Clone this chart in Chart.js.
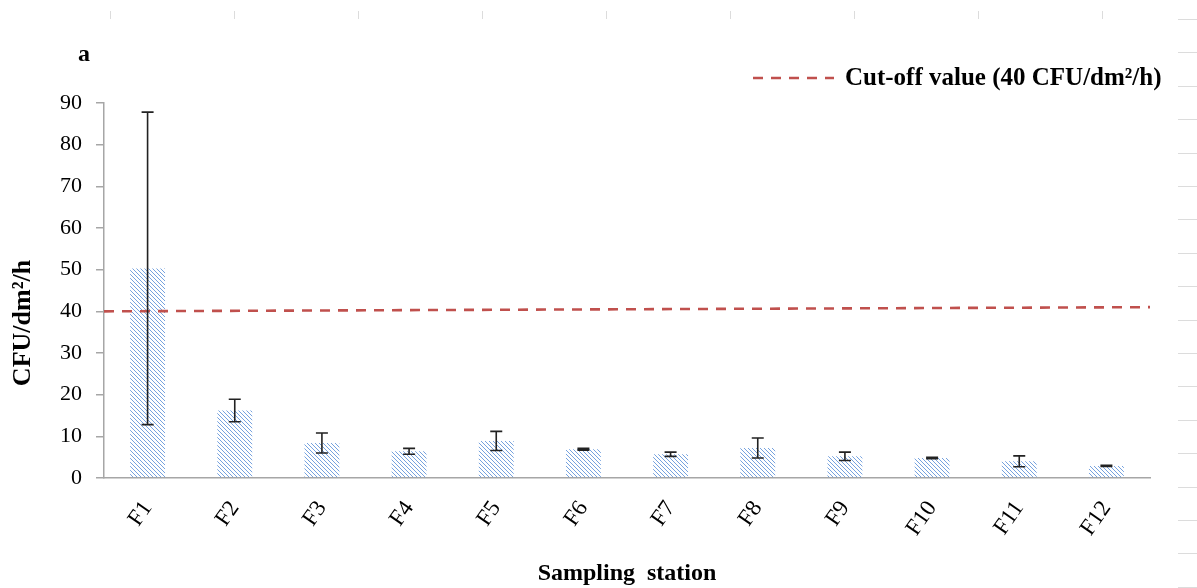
<!DOCTYPE html>
<html>
<head>
<meta charset="utf-8">
<script src="https://cdn.jsdelivr.net/npm/chart.js@4"></script>
<style>
  html, body { margin: 0; padding: 0; background: #fff; }
  #wrap { width: 1197px; height: 588px; }
</style>
</head>
<body>
<div id="wrap"><canvas id="c"></canvas></div>
<script>
const stations = ['F1', 'F2', 'F3', 'F4', 'F5', 'F6', 'F7', 'F8', 'F9', 'F10', 'F11', 'F12']
const meanCfu = [50.3, 16.2, 8.4, 6.4, 8.9, 6.9, 5.7, 7.2, 5.2, 4.8, 4.0, 2.9]
const errCfu = [37.5, 2.7, 2.4, 0.7, 2.3, 0.2, 0.5, 2.4, 1.0, 0.15, 1.3, 0.15]
const cutoffX = [0, 1]
const cutoffY = [40, 41]
const yTicks = [0, 10, 20, 30, 40, 50, 60, 70, 80, 90]

const serif = "'Liberation Serif', 'Times New Roman', serif"
const red = '#c0504d'

// diagonal hatch like the excel fill
const tile = document.createElement('canvas')
tile.width = 4; tile.height = 4
const t = tile.getContext('2d')
t.strokeStyle = '#76a2de'
t.lineWidth = 1
t.beginPath()
t.moveTo(-1, -1); t.lineTo(5, 5)
t.moveTo(-1, 3); t.lineTo(1, 5)
t.moveTo(3, -1); t.lineTo(5, 1)
t.stroke()
const hatch = t.createPattern(tile, 'repeat')

const errorBars = {
  id: 'errorBars',
  afterDatasetsDraw(chart) {
    const meta = chart.getDatasetMeta(0)
    const y = chart.scales.y
    const ctx = chart.ctx
    ctx.save()
    ctx.strokeStyle = '#222'
    ctx.lineWidth = 1.6
    meta.data.forEach((bar, i) => {
      const top = y.getPixelForValue(meanCfu[i] + errCfu[i])
      const bot = y.getPixelForValue(Math.max(0, meanCfu[i] - errCfu[i]))
      ctx.beginPath()
      ctx.moveTo(bar.x, top); ctx.lineTo(bar.x, bot)
      ctx.moveTo(bar.x - 6, top); ctx.lineTo(bar.x + 6, top)
      ctx.moveTo(bar.x - 6, bot); ctx.lineTo(bar.x + 6, bot)
      ctx.stroke()
    })
    ctx.restore()
  }
}

const extras = {
  id: 'extras',
  beforeDraw(chart) {
    const ctx = chart.ctx
    ctx.save()
    ctx.fillStyle = '#fff'
    ctx.fillRect(0, 0, chart.width, chart.height)
    // page ruler marks
    ctx.strokeStyle = '#dcdcdc'
    ctx.lineWidth = 1
    for (let x = 110; x < 1180; x += 124) {
      ctx.beginPath(); ctx.moveTo(x + 0.5, 11); ctx.lineTo(x + 0.5, 19); ctx.stroke()
    }
    for (let yy = 19; yy < 590; yy += 33.4) {
      ctx.beginPath(); ctx.moveTo(1178, Math.round(yy) + 0.5); ctx.lineTo(1197, Math.round(yy) + 0.5); ctx.stroke()
    }
    ctx.restore()
  },
  afterDraw(chart) {
    const ctx = chart.ctx
    const ds = chart.data.datasets[1]
    ctx.save()
    ctx.fillStyle = '#000'
    ctx.font = 'bold 24px ' + serif
    ctx.textBaseline = 'middle'
    ctx.fillText('a', 78, 55)
    // legend
    ctx.strokeStyle = ds.borderColor
    ctx.lineWidth = ds.borderWidth
    ctx.setLineDash(ds.borderDash)
    ctx.beginPath(); ctx.moveTo(753, 78); ctx.lineTo(834, 78); ctx.stroke()
    ctx.setLineDash([])
    ctx.font = 'bold 25px ' + serif
    ctx.fillText(ds.label, 845, 79)
    ctx.restore()
  }
}

new Chart(document.getElementById('c'), {
  type: 'bar',
  data: {
    labels: stations,
    datasets: [
      {
        label: 'CFU',
        data: meanCfu,
        backgroundColor: hatch,
        borderWidth: 0,
        barPercentage: 0.4,
        categoryPercentage: 1,
        grouped: false,
        order: 2
      },
      {
        type: 'line',
        label: 'Cut-off value (40 CFU/dm²/h)',
        xAxisID: 'x2',
        data: cutoffX.map((x, i) => ({ x, y: cutoffY[i] })),
        borderColor: red,
        borderWidth: 2.6,
        borderDash: [10, 8],
        pointRadius: 0,
        fill: false,
        order: 1
      }
    ]
  },
  options: {
    responsive: true,
    maintainAspectRatio: false,
    animation: false,
    layout: { padding: { top: 103, right: 47, left: 0, bottom: 0 } },
    plugins: { legend: { display: false }, tooltip: { enabled: false } },
    scales: {
      x: {
        afterFit: s => { s.height = 110 },
        grid: { display: false },
        border: { display: true, color: '#a6a6a6', width: 1.5 },
        ticks: { color: '#000', font: { family: serif, size: 23 }, minRotation: 55, maxRotation: 55, padding: 10 },
        title: { display: true, text: 'Sampling  station', color: '#000', font: { family: serif, size: 24, weight: 'bold' }, padding: { top: 0, bottom: 0 } }
      },
      x2: { type: 'linear', min: 0, max: 1, offset: false, display: false },
      y: {
        min: 0,
        max: 90,
        afterFit: s => { s.width = 104 },
        afterBuildTicks: s => { s.ticks = yTicks.map(v => ({ value: v })) },
        grid: { drawOnChartArea: false, drawTicks: true, tickLength: 8, color: '#a6a6a6', lineWidth: 1.5 },
        border: { display: true, color: '#a6a6a6', width: 1.5 },
        ticks: { color: '#000', font: { family: serif, size: 22 }, padding: 14 },
        title: { display: true, text: 'CFU/dm²/h          ', color: '#000', font: { family: serif, size: 26, weight: 'bold' }, padding: { top: 8, bottom: 0 } }
      }
    }
  },
  plugins: [extras, errorBars]
})
</script>
</body>
</html>
